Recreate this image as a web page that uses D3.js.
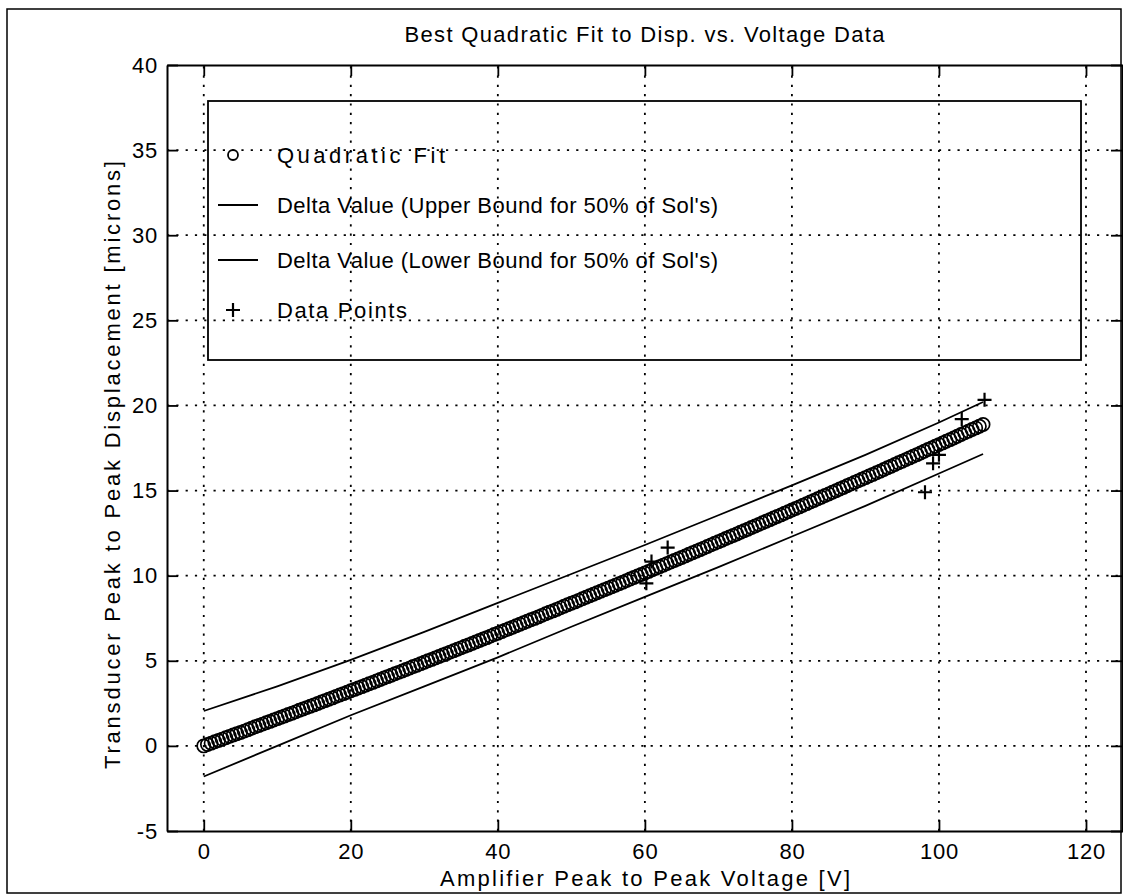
<!DOCTYPE html>
<html>
<head>
<meta charset="utf-8">
<script src="https://cdn.jsdelivr.net/npm/d3@7"></script>
<style>
  body { margin: 0; background: #fff; }
  svg text { font-family: "Liberation Sans", Arial, Helvetica, sans-serif; fill: #000; }
</style>
</head>
<body>
<div id="chart"></div>
<script>
// tick labels
const xTicks = [0, 20, 40, 60, 80, 100, 120]
const yTicks = [-5, 0, 5, 10, 15, 20, 25, 30, 35, 40]

// quadratic fit, read every 0.5 V from 0 to 106 V
const fitStart = 0
const fitStep = 0.5
const fitDisp = [
  0, 0.08, 0.16, 0.24, 0.32, 0.40, 0.48, 0.56, 0.64, 0.71, 0.79, 0.87, 0.95, 1.04, 1.12, 1.20,
  1.28, 1.36, 1.44, 1.52, 1.60, 1.68, 1.76, 1.84, 1.92, 2.00, 2.09, 2.17, 2.25, 2.33, 2.41, 2.49,
  2.58, 2.66, 2.74, 2.82, 2.91, 2.99, 3.07, 3.15, 3.24, 3.32, 3.40, 3.48, 3.57, 3.65, 3.73, 3.82,
  3.90, 3.99, 4.07, 4.15, 4.24, 4.32, 4.40, 4.49, 4.57, 4.66, 4.74, 4.83, 4.91, 5.00, 5.08, 5.17,
  5.25, 5.34, 5.42, 5.51, 5.59, 5.68, 5.76, 5.85, 5.93, 6.02, 6.11, 6.19, 6.28, 6.36, 6.45, 6.54,
  6.62, 6.71, 6.80, 6.88, 6.97, 7.06, 7.15, 7.23, 7.32, 7.41, 7.49, 7.58, 7.67, 7.76, 7.85, 7.93,
  8.02, 8.11, 8.20, 8.29, 8.38, 8.46, 8.55, 8.64, 8.73, 8.82, 8.91, 9.00, 9.09, 9.18, 9.26, 9.35,
  9.44, 9.53, 9.62, 9.71, 9.80, 9.89, 9.98, 10.07, 10.16, 10.25, 10.35, 10.44, 10.53, 10.62, 10.71,
  10.80, 10.89, 10.98, 11.07, 11.16, 11.26, 11.35, 11.44, 11.53, 11.62, 11.71, 11.81, 11.90, 11.99,
  12.08, 12.18, 12.27, 12.36, 12.45, 12.55, 12.64, 12.73, 12.83, 12.92, 13.01, 13.11, 13.20, 13.29,
  13.39, 13.48, 13.57, 13.67, 13.76, 13.86, 13.95, 14.04, 14.14, 14.23, 14.33, 14.42, 14.52, 14.61,
  14.71, 14.80, 14.90, 14.99, 15.09, 15.18, 15.28, 15.38, 15.47, 15.57, 15.66, 15.76, 15.86, 15.95,
  16.05, 16.14, 16.24, 16.34, 16.43, 16.53, 16.63, 16.72, 16.82, 16.92, 17.02, 17.11, 17.21, 17.31,
  17.41, 17.50, 17.60, 17.70, 17.80, 17.90, 17.99, 18.09, 18.19, 18.29, 18.39, 18.49, 18.59, 18.68,
  18.78, 18.88
]

// delta bounds
const boundVolts = [0, 10, 20, 30, 40, 50, 60, 70, 80, 90, 100, 106]
const upperDisp = [2.05, 3.5, 5.05, 6.7, 8.4, 10.1, 11.8, 13.55, 15.3, 17.1, 19.0, 20.2]
const lowerDisp = [-1.8, 0.0, 1.8, 3.5, 5.2, 7.0, 8.75, 10.5, 12.3, 14.1, 16.0, 17.15]

// measured data points
const dataVolts = [60.2, 60.9, 63.1, 98.1, 99.2, 100.0, 103.1, 106.2]
const dataDisp = [9.55, 10.83, 11.65, 14.9, 16.6, 17.1, 19.2, 20.33]

const legendLabels = [
  "Quadratic Fit",
  "Delta Value (Upper Bound for 50% of Sol's)",
  "Delta Value (Lower Bound for 50% of Sol's)",
  "Data Points"
]

const width = 1123
const height = 895
const pLeft = 167, pRight = 1122, pTop = 65, pBottom = 831
const fontSize = 22

const svg = d3.select("#chart")
  .append("svg")
    .attr("width", width)
    .attr("height", height)

// outer frame of the figure
svg.append("rect")
  .attr("x", 7).attr("y", 9)
  .attr("width", 1114).attr("height", 884)
  .attr("fill", "none")
  .attr("stroke", "#000")
  .attr("stroke-width", 1.5)

const x = d3.scaleLinear().domain([-5, 125]).range([pLeft, pRight + 0.75])
const y = d3.scaleLinear().domain([-5, 40]).range([pBottom, pTop])

// dotted grid
const grid = svg.append("g")
  .attr("stroke", "#000")
  .attr("stroke-width", 1.8)
  .attr("stroke-dasharray", "2.2,7.1")
grid.selectAll(".gx")
  .data(xTicks)
  .join("line")
    .attr("class", "gx")
    .attr("x1", d => x(d)).attr("x2", d => x(d))
    .attr("y1", pBottom).attr("y2", pTop)
grid.selectAll(".gy")
  .data(yTicks.filter(d => d > -5 && d < 40))
  .join("line")
    .attr("class", "gy")
    .attr("x1", pLeft).attr("x2", pRight)
    .attr("y1", d => y(d)).attr("y2", d => y(d))

// axes, ticks pointing inward on all four sides
const tickLen = 11
const styleAxis = g => {
  g.select(".domain").attr("stroke-width", 2)
  g.selectAll(".tick line").attr("stroke-width", 1.8)
  g.selectAll("text")
    .attr("font-size", fontSize)
    .attr("letter-spacing", 0.8)
    .attr("font-family", "'Liberation Sans', Arial, sans-serif")
}
const fmt = d => String(d)

svg.append("g")
  .attr("transform", `translate(0,${pBottom})`)
  .call(d3.axisBottom(x).tickValues(xTicks).tickSize(-tickLen).tickSizeOuter(0).tickPadding(12).tickFormat(fmt))
  .call(styleAxis)

svg.append("g")
  .attr("transform", `translate(0,${pTop})`)
  .call(d3.axisTop(x).tickValues(xTicks).tickSize(-tickLen).tickSizeOuter(0).tickFormat(""))
  .call(styleAxis)

svg.append("g")
  .attr("transform", `translate(${pLeft},0)`)
  .call(d3.axisLeft(y).tickValues(yTicks).tickSize(-tickLen).tickSizeOuter(0).tickPadding(9).tickFormat(fmt))
  .call(styleAxis)

svg.append("g")
  .attr("transform", `translate(${pRight},0)`)
  .call(d3.axisRight(y).tickValues(yTicks).tickSize(-tickLen).tickSizeOuter(0).tickFormat(""))
  .call(styleAxis)

// bound lines
const line = d3.line()
  .x((d, i) => x(boundVolts[i]))
  .y(d => y(d))

svg.append("path")
  .attr("d", line(upperDisp))
  .attr("fill", "none").attr("stroke", "#000").attr("stroke-width", 1.8)
svg.append("path")
  .attr("d", line(lowerDisp))
  .attr("fill", "none").attr("stroke", "#000").attr("stroke-width", 1.8)

// fit circles
svg.append("g")
  .selectAll("circle")
  .data(fitDisp)
  .join("circle")
    .attr("cx", (d, i) => x(fitStart + i * fitStep))
    .attr("cy", d => y(d))
    .attr("r", 6.6)
    .attr("fill", "none")
    .attr("stroke", "#000")
    .attr("stroke-width", 1.7)

// plus markers
const plus = (g, s) => g.append("path")
  .attr("d", `M${-s},0H${s}M0,${-s}V${s}`)
  .attr("stroke", "#000")
  .attr("stroke-width", 2.2)
  .attr("fill", "none")

svg.append("g")
  .selectAll("g")
  .data(dataDisp)
  .join("g")
    .attr("transform", (d, i) => `translate(${x(dataVolts[i])},${y(d)})`)
    .each(function() { plus(d3.select(this), 7) })

// legend
const legend = svg.append("g")
legend.append("rect")
  .attr("x", 208).attr("y", 101)
  .attr("width", 873).attr("height", 259)
  .attr("fill", "none")
  .attr("stroke", "#000")
  .attr("stroke-width", 1.8)

const rowY = [155, 205, 260, 310]
const textLen = [168, 441, 441, 130]
legend.append("circle")
  .attr("cx", 233).attr("cy", rowY[0]).attr("r", 5)
  .attr("fill", "none").attr("stroke", "#000").attr("stroke-width", 1.8)
legend.append("line")
  .attr("x1", 218).attr("x2", 258).attr("y1", rowY[1]).attr("y2", rowY[1])
  .attr("stroke", "#000").attr("stroke-width", 1.8)
legend.append("line")
  .attr("x1", 218).attr("x2", 258).attr("y1", rowY[2]).attr("y2", rowY[2])
  .attr("stroke", "#000").attr("stroke-width", 1.8)
plus(legend.append("g").attr("transform", `translate(233,${rowY[3]})`), 7)

legend.selectAll("text")
  .data(legendLabels)
  .join("text")
    .attr("x", 277)
    .attr("y", (d, i) => rowY[i] + 8)
    .attr("font-size", fontSize)
    .attr("textLength", (d, i) => textLen[i])
    .attr("lengthAdjust", "spacing")
    .text(d => d)

// title and axis labels
svg.append("text")
  .attr("x", (pLeft + pRight) / 2).attr("y", 42)
  .attr("text-anchor", "middle")
  .attr("font-size", fontSize)
  .attr("textLength", 480).attr("lengthAdjust", "spacing")
  .text("Best Quadratic Fit to Disp. vs. Voltage Data")

svg.append("text")
  .attr("x", 645).attr("y", 886)
  .attr("text-anchor", "middle")
  .attr("font-size", fontSize)
  .attr("textLength", 410).attr("lengthAdjust", "spacing")
  .text("Amplifier Peak to Peak Voltage [V]")

svg.append("text")
  .attr("transform", "translate(120,465) rotate(-90)")
  .attr("text-anchor", "middle")
  .attr("font-size", fontSize)
  .attr("textLength", 608).attr("lengthAdjust", "spacing")
  .text("Transducer Peak to Peak Displacement [microns]")
</script>
</body>
</html>
